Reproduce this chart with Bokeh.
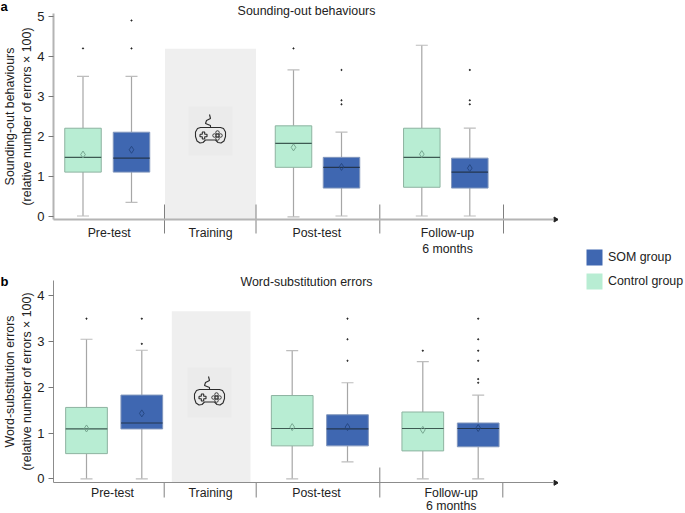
from bokeh.embed import file_html
from bokeh.layouts import column, row
from bokeh.models import FixedTicker, Label, Legend, LegendItem, Range1d
from bokeh.plotting import figure
from bokeh.resources import INLINE

FONT = "Liberation Sans"
CONTROL = "#b8edd3"
SOM = "#3f67b1"

# ---- data ----
A_control_low = [0.0, -0.02, 0.0]
A_control_q1 = [1.1, 1.22, 0.72]
A_control_med = [1.47, 1.82, 1.47]
A_control_q3 = [2.2, 2.26, 2.2]
A_control_high = [3.5, 3.66, 4.28]
A_control_mean = [1.54, 1.72, 1.55]
A_control_out = [[4.2], [4.2], []]
A_som_low = [0.34, 0.0, 0.0]
A_som_q1 = [1.1, 0.7, 0.7]
A_som_med = [1.45, 1.22, 1.1]
A_som_q3 = [2.1, 1.47, 1.45]
A_som_high = [3.5, 2.1, 2.2]
A_som_mean = [1.66, 1.23, 1.2]
A_som_out = [[4.2, 4.9], [2.8, 2.9, 3.66], [2.8, 2.9, 3.66]]

B_control_low = [0.0, 0.0, 0.0]
B_control_q1 = [0.55, 0.72, 0.61]
B_control_med = [1.09, 1.1, 1.1]
B_control_q3 = [1.56, 1.82, 1.46]
B_control_high = [3.05, 2.8, 2.56]
B_control_mean = [1.1, 1.13, 1.07]
B_control_out = [[3.5], [], [2.8]]
B_som_low = [0.0, 0.37, 0.0]
B_som_q1 = [1.09, 0.72, 0.7]
B_som_med = [1.22, 1.09, 1.1]
B_som_q3 = [1.83, 1.4, 1.22]
B_som_high = [2.81, 2.1, 1.83]
B_som_mean = [1.43, 1.13, 1.11]
B_som_out = [[2.95, 3.5], [2.58, 3.05, 3.5], [2.1, 2.18, 2.58, 2.8, 3.05, 3.5]]

A_sessions = ["Pre-test", "Training", "Post-test", "Follow-up\n6 months"]
B_sessions = ["Pre-test", "Training", "Post-test", "Follow-up"]
B_followup_note = "6 months"
A_y_ticks = [0, 1, 2, 3, 4, 5]
B_y_ticks = [0, 1, 2, 3, 4]
A_train_top = 4.19
B_train_top = 3.66


def panel(height, y0_px, scale, ticks, top_axis_px, axis_px, axis_color, axis_w, ylabel, title, title_xc, title_px,
          label_standoff, sessions, label_xs, ctrl_x, som_x, box_w, train, seps, icon_c, icon_box,
          ctrl, som, train_top, letter, letter_px):
    to_y = lambda px: (y0_px - px) / scale
    p = figure(width=558, height=height, output_backend="svg", toolbar_location=None,
               x_range=Range1d(0, 558), y_range=Range1d(to_y(height), to_y(0)),
               min_border_left=0, min_border_right=0, min_border_top=0, min_border_bottom=0,
               background_fill_color=None, border_fill_color=None, outline_line_color=None)
    p.grid.visible = False

    ya = p.yaxis[0]
    ya.fixed_location = 53
    ya.bounds = (to_y(axis_px), to_y(top_axis_px))
    ya.ticker = FixedTicker(ticks=ticks)
    ya.axis_line_color = axis_color
    ya.axis_line_width = axis_w
    ya.major_tick_line_color = "#777777"
    ya.major_tick_out = 5
    ya.major_tick_in = 0
    ya.minor_tick_line_color = None
    ya.major_label_text_font = FONT
    ya.major_label_text_font_size = "13px"
    ya.major_label_text_color = "#222222"
    ya.major_label_standoff = 4
    ya.axis_label = ylabel
    ya.axis_label_text_font = FONT
    ya.axis_label_text_font_size = "12.4px"
    ya.axis_label_text_font_style = "normal"
    ya.axis_label_text_color = "#222222"
    ya.axis_label_standoff = 0

    xa = p.xaxis[0]
    xa.fixed_location = to_y(axis_px)
    xa.bounds = (53, 553)
    xa.ticker = FixedTicker(ticks=label_xs)
    xa.major_label_overrides = dict(zip(label_xs, sessions))
    xa.axis_line_color = axis_color
    xa.axis_line_width = axis_w
    xa.major_tick_line_color = None
    xa.major_tick_out = 0
    xa.major_tick_in = 0
    xa.minor_tick_line_color = None
    xa.minor_tick_out = 0
    xa.major_label_text_font = FONT
    xa.major_label_text_font_size = "12.3px"
    xa.major_label_text_color = "#222222"
    xa.major_label_standoff = label_standoff

    p.scatter([555], [to_y(axis_px)], marker="triangle", angle=-1.5708, size=5, color="#222222")

    # training block and icon
    p.quad(left=[train[0]], right=[train[1]], bottom=[to_y(axis_px)], top=[train_top],
           fill_color="#efefef", line_color=None, level="underlay")
    p.quad(left=[icon_box[0]], right=[icon_box[1]], bottom=[to_y(icon_box[3])], top=[to_y(icon_box[2])],
           fill_color="#ebebeb", line_color=None, level="underlay")
    cx, cy = icon_c
    shape = [(-10, -8), (10, -8), (13, -7), (15, -3.5), (15, 1), (13.5, 5.5), (10.5, 7.5), (7.5, 7), (5, 4.5),
             (-5, 4.5), (-7.5, 7), (-10.5, 7.5), (-13.5, 5.5), (-15, 1), (-15, -3.5), (-13, -7), (-10, -8)]
    cable = [(0, -8), (0, -10), (-5, -12), (-4, -15), (0, -17), (-1, -21)]
    cross = [(-10.5, -1.2), (-8.2, -1.2), (-8.2, -3.5), (-5.8, -3.5), (-5.8, -1.2), (-3.5, -1.2), (-3.5, 1.2),
             (-5.8, 1.2), (-5.8, 3.5), (-8.2, 3.5), (-8.2, 1.2), (-10.5, 1.2), (-10.5, -1.2)]
    for line in (shape, cable, cross):
        p.line([cx + a for a, b in line], [to_y(cy + b) for a, b in line], line_color="#2b2b2b", line_width=1.1)
    btn = [(7, 0), (10, 0), (4, 0), (7, -3), (7, 3)]
    p.scatter([cx + a for a, b in btn], [to_y(cy + b) for a, b in btn], marker="circle", size=3.5,
              fill_color=None, line_color="#2b2b2b", line_width=0.9)

    # separators
    p.segment(x0=[s[0] for s in seps], x1=[s[0] for s in seps], y0=[to_y(s[1]) for s in seps],
              y1=[to_y(s[2]) for s in seps], line_color="#808080", line_width=1)

    # boxes
    for xs, d, fill, edge, med, mean_c in ((ctrl_x, ctrl, CONTROL, "#8db3a0", "#3d5a52", "#6f9f89"),
                                           (som_x, som, SOM, "#8297bd", "#24364f", "#24457f")):
        low, q1, m, q3, high, mean, out = d
        p.segment(x0=xs, x1=xs, y0=low, y1=q1, line_color="#a6a6a6", line_width=1.2)
        p.segment(x0=xs, x1=xs, y0=q3, y1=high, line_color="#a6a6a6", line_width=1.2)
        capl = [x - 6 for x in xs]
        capr = [x + 6 for x in xs]
        p.segment(x0=capl, x1=capr, y0=low, y1=low, line_color="#bdbdbd", line_width=1.2)
        p.segment(x0=capl, x1=capr, y0=high, y1=high, line_color="#bdbdbd", line_width=1.2)
        p.quad(left=[x - box_w / 2 for x in xs], right=[x + box_w / 2 for x in xs], bottom=q1, top=q3,
               fill_color=fill, line_color=edge, line_width=1)
        p.segment(x0=[x - box_w / 2 for x in xs], x1=[x + box_w / 2 for x in xs], y0=m, y1=m,
                  line_color=med, line_width=1.2)
        p.scatter(xs, mean, marker="diamond", size=7, fill_color=None, line_color=mean_c, line_width=0.9)
        ox = [x for x, o in zip(xs, out) for _ in o]
        oy = [v for o in out for v in o]
        p.scatter(ox, oy, marker="circle", size=1.2, color="#222222")

    p.add_layout(Label(x=title_xc, y=to_y(title_px), text=title, text_align="center",
                       text_baseline="middle", text_font=FONT, text_font_size="12.4px", text_color="#222222"))
    p.add_layout(Label(x=0, y=to_y(letter_px), text=letter, text_font=FONT, text_font_style="bold",
                       text_font_size="13px", text_color="#000000", text_baseline="middle"))
    return p, to_y


pa, _ = panel(
    260, 215.5, 39.9, A_y_ticks, 13, 219, "#b4b4b4", 2,
    "Sounding-out behaviours\n(relative number of errors × 100)",
    "Sounding-out behaviours", 306, 10, 6, A_sessions, [108.7, 210, 316.3, 447],
    [82.5, 293, 421.3], [131, 341, 469.3], 36.5, (164.5, 255.5),
    [(164, 204, 233), (255.5, 204, 233), (379.3, 204, 233), (503, 204, 233)],
    (210, 135), (188, 232, 106, 155),
    (A_control_low, A_control_q1, A_control_med, A_control_q3, A_control_high, A_control_mean, A_control_out),
    (A_som_low, A_som_q1, A_som_med, A_som_q3, A_som_high, A_som_mean, A_som_out),
    A_train_top, "a", 6)
pb, to_y_b = panel(
    253, 218.3, 45.75, B_y_ticks, 20, 222.3, "#8c8c8c", 1,
    "Word-substitution errors\n(relative number of errors × 100)",
    "Word-substitution errors", 306, 21.5, 3, B_sessions, [112, 210, 316, 450.7],
    [86, 291.7, 422.3], [141.3, 347, 477.7], 41.7, (171.3, 250),
    [(163.7, 222, 237), (255.7, 222, 237), (379.3, 207, 237), (502.3, 222, 237)],
    (209, 137), (187, 231, 107, 157),
    (B_control_low, B_control_q1, B_control_med, B_control_q3, B_control_high, B_control_mean, B_control_out),
    (B_som_low, B_som_q1, B_som_med, B_som_q3, B_som_high, B_som_mean, B_som_out),
    B_train_top, "b", 20.5)
pb.add_layout(Label(x=450.7, y=to_y_b(245), text=B_followup_note, text_align="center", text_baseline="middle",
                    text_font=FONT, text_font_size="12.3px", text_color="#222222"))

# legend column
lg = figure(width=127, height=513, output_backend="svg", toolbar_location=None,
            x_range=Range1d(0, 1), y_range=Range1d(0, 1), x_axis_type=None, y_axis_type=None,
            min_border=0, outline_line_color=None)
lg.grid.visible = False
r1 = lg.quad(left=[2], right=[3], bottom=[2], top=[3], fill_color=SOM, line_color=None)
r2 = lg.quad(left=[2], right=[3], bottom=[2], top=[3], fill_color=CONTROL, line_color=None)
legend = Legend(items=[LegendItem(label="SOM group", renderers=[r1]),
                       LegendItem(label="Control group", renderers=[r2])],
                location=(26, 222), orientation="vertical", glyph_width=20, glyph_height=20,
                spacing=4, padding=0, margin=0, label_standoff=4, label_text_font=FONT,
                label_text_font_size="12.4px", label_text_color="#222222", label_height=20,
                border_line_color=None, background_fill_color=None)
lg.add_layout(legend)

page = row(column(pa, pb, spacing=0), lg, spacing=0)
open("out.html", "w").write(file_html(page, INLINE))
